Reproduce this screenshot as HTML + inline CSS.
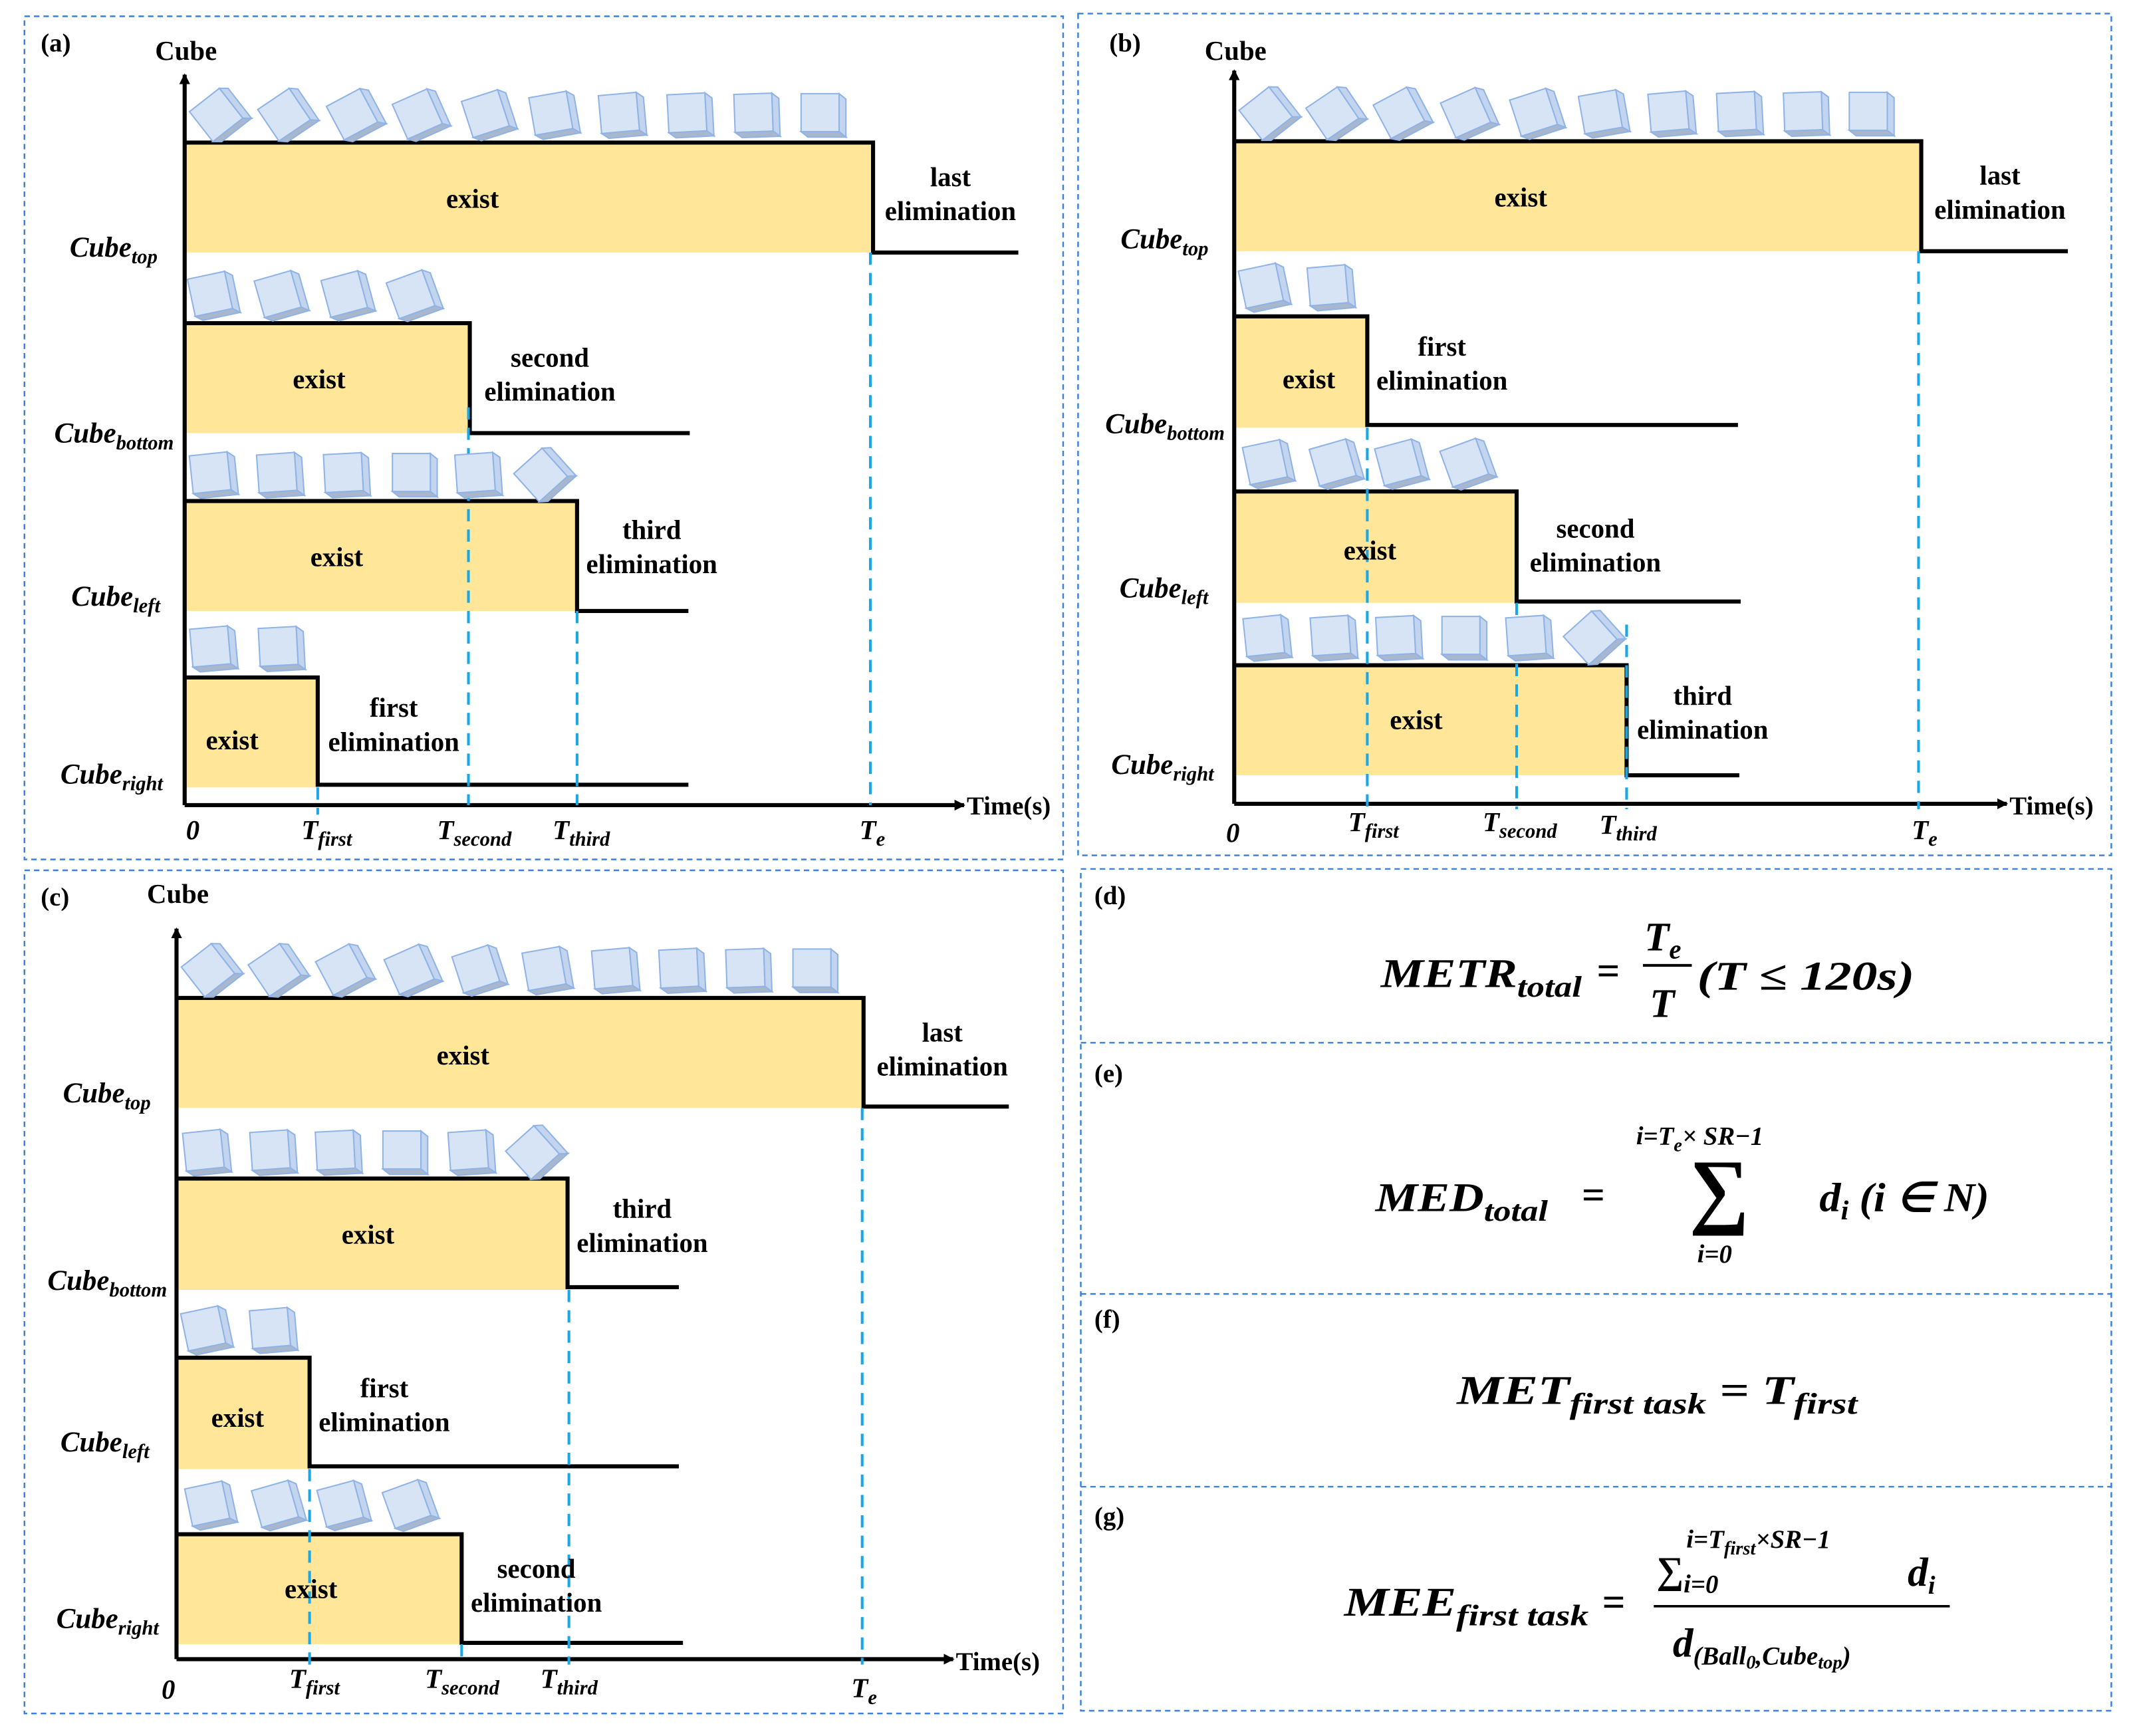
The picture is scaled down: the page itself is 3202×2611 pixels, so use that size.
<!DOCTYPE html>
<html><head><meta charset="utf-8"><style>
html,body{margin:0;padding:0;background:#fff}
svg{display:block}
text{font-family:"Liberation Serif",serif;font-weight:bold;fill:#000}
.it{font-style:italic;font-weight:bold}
.m{font-style:italic;font-weight:bold}
</style></head><body>
<svg width="3202" height="2611" viewBox="0 0 1568 1278.6" xmlns="http://www.w3.org/2000/svg">
<defs>
<g id="cb">
<polygon points="-16,-16 12,-16 12,12 -16,12" fill="#d6e4f6" stroke="#8fb3e6" stroke-width="1"/>
<polygon points="12,-16 17,-12 17,16 12,12" fill="#c3d4ee" stroke="#8fb3e6" stroke-width="1"/>
<polygon points="-16,12 12,12 17,16 -11,16" fill="#a9b7cd" stroke="#8fb3e6" stroke-width="1"/>
</g>
<marker id="ar" markerWidth="8" markerHeight="8" refX="7" refY="4" orient="auto" markerUnits="userSpaceOnUse"><path d="M0,0 L8,4 L0,8 z" fill="#000"/></marker>
</defs>
<rect width="1568" height="1278.6" fill="#fff"/>
<g fill="none" stroke="#3b82d6" stroke-width="1.2" stroke-dasharray="4,3">
<rect x="18" y="12" width="765" height="621"/>
<rect x="794" y="10" width="761" height="620"/>
<rect x="18" y="641" width="765" height="621"/>
<rect x="796" y="640" width="759" height="620"/>
<line x1="796" y1="768" x2="1555" y2="768"/>
<line x1="796" y1="953" x2="1555" y2="953"/>
<line x1="796" y1="1095" x2="1555" y2="1095"/>
</g>
<g font-size="19"><text x="30" y="38">(a)</text><text x="817" y="38">(b)</text><text x="30" y="667">(c)</text>
<text x="806" y="666">(d)</text><text x="806" y="797">(e)</text><text x="806" y="978">(f)</text><text x="806" y="1123">(g)</text></g>

<!-- ===== Panel (a) ===== -->
<g fill="#ffe699">
<rect x="136" y="105" width="507" height="81"/><rect x="136" y="238" width="210" height="81"/>
<rect x="136" y="369" width="289" height="81"/><rect x="136" y="499" width="98" height="81"/></g>
<g stroke="#000" stroke-width="3" fill="none">
<polyline points="136,105 643,105 643,186 750,186"/>
<polyline points="136,238 346,238 346,319 508,319"/>
<polyline points="136,369 425,369 425,450 507,450"/>
<polyline points="136,499 234,499 234,578 507,578"/>
<line x1="136" y1="593" x2="136" y2="55" marker-end="url(#ar)"/>
<line x1="136" y1="593" x2="710" y2="593" marker-end="url(#ar)"/></g>
<g stroke="#1aa7e6" stroke-width="2" stroke-dasharray="9,6">
<line x1="641" y1="186" x2="641" y2="593"/><line x1="345" y1="300" x2="345" y2="593"/>
<line x1="425" y1="450" x2="425" y2="593"/><line x1="234" y1="580" x2="234" y2="600"/></g>
<g font-size="20" text-anchor="middle">
<text x="348" y="153">exist</text><text x="235" y="286">exist</text><text x="248" y="417">exist</text><text x="171" y="552">exist</text>
<text x="700" y="137">last</text><text x="700" y="162">elimination</text>
<text x="405" y="270">second</text><text x="405" y="295">elimination</text>
<text x="480" y="397">third</text><text x="480" y="422">elimination</text>
<text x="290" y="528">first</text><text x="290" y="553">elimination</text>
<text x="137" y="44">Cube</text></g>
<text x="712" y="600" font-size="19">Time(s)</text>
<g font-size="21" text-anchor="end">
<text x="116" y="189" class="it">Cube<tspan font-size="15" dy="5">top</tspan></text>
<text x="128" y="326" class="it">Cube<tspan font-size="15" dy="5">bottom</tspan></text>
<text x="118" y="446" class="it">Cube<tspan font-size="15" dy="5">left</tspan></text>
<text x="120" y="577" class="it">Cube<tspan font-size="15" dy="5">right</tspan></text></g>
<g font-size="20">
<text x="137" y="618" class="it">0</text>
<text x="222" y="618" class="it">T<tspan font-size="15" dy="5">first</tspan></text>
<text x="322" y="618" class="it">T<tspan font-size="15" dy="5">second</tspan></text>
<text x="407" y="618" class="it">T<tspan font-size="15" dy="5">third</tspan></text>
<text x="633" y="618" class="it">T<tspan font-size="15" dy="5">e</tspan></text></g>
<g>
<use href="#cb" transform="translate(162,85) rotate(-38)"/><use href="#cb" transform="translate(212,85) rotate(-34)"/>
<use href="#cb" transform="translate(262,85) rotate(-28)"/><use href="#cb" transform="translate(310,85) rotate(-24)"/>
<use href="#cb" transform="translate(360,85) rotate(-18)"/><use href="#cb" transform="translate(408,85) rotate(-10)"/>
<use href="#cb" transform="translate(458,85) rotate(-5)"/><use href="#cb" transform="translate(508,85) rotate(-3)"/>
<use href="#cb" transform="translate(557,85) rotate(-2)"/><use href="#cb" transform="translate(606,85)"/>
<use href="#cb" transform="translate(157,218) rotate(-12)"/><use href="#cb" transform="translate(207,218) rotate(-16)"/>
<use href="#cb" transform="translate(256,218) rotate(-15)"/><use href="#cb" transform="translate(305,218) rotate(-20)"/>
<use href="#cb" transform="translate(157,350) rotate(-6)"/><use href="#cb" transform="translate(206,350) rotate(-4)"/>
<use href="#cb" transform="translate(255,350) rotate(-3)"/><use href="#cb" transform="translate(305,350)"/>
<use href="#cb" transform="translate(352,350) rotate(-4)"/><use href="#cb" transform="translate(401,350) rotate(-42)"/>
<use href="#cb" transform="translate(157,478) rotate(-5)"/><use href="#cb" transform="translate(207,478) rotate(-3)"/>
</g>

<!-- ===== Panel (b) ===== -->
<g fill="#ffe699">
<rect x="909" y="104" width="506" height="81"/><rect x="909" y="233" width="98" height="82"/>
<rect x="909" y="362" width="208" height="82"/><rect x="909" y="490" width="289" height="81"/></g>
<g stroke="#000" stroke-width="3" fill="none">
<polyline points="909,104 1415,104 1415,185 1523,185"/>
<polyline points="909,233 1007,233 1007,313 1280,313"/>
<polyline points="909,362 1117,362 1117,443 1282,443"/>
<polyline points="909,490 1198,490 1198,571 1281,571"/>
<line x1="909" y1="592" x2="909" y2="52" marker-end="url(#ar)"/>
<line x1="909" y1="592" x2="1478" y2="592" marker-end="url(#ar)"/></g>
<g stroke="#1aa7e6" stroke-width="2" stroke-dasharray="9,6">
<line x1="1007" y1="315" x2="1007" y2="600"/><line x1="1117" y1="444" x2="1117" y2="596"/>
<line x1="1198" y1="460" x2="1198" y2="596"/><line x1="1413" y1="185" x2="1413" y2="596"/></g>
<g font-size="20" text-anchor="middle">
<text x="1120" y="152">exist</text><text x="964" y="286">exist</text><text x="1009" y="412">exist</text><text x="1043" y="537">exist</text>
<text x="1473" y="136">last</text><text x="1473" y="161">elimination</text>
<text x="1062" y="262">first</text><text x="1062" y="287">elimination</text>
<text x="1175" y="396">second</text><text x="1175" y="421">elimination</text>
<text x="1254" y="519">third</text><text x="1254" y="544">elimination</text>
<text x="910" y="44">Cube</text></g>
<text x="1480" y="600" font-size="19">Time(s)</text>
<g font-size="21" text-anchor="end">
<text x="890" y="183" class="it">Cube<tspan font-size="15" dy="5">top</tspan></text>
<text x="902" y="319" class="it">Cube<tspan font-size="15" dy="5">bottom</tspan></text>
<text x="890" y="440" class="it">Cube<tspan font-size="15" dy="5">left</tspan></text>
<text x="894" y="570" class="it">Cube<tspan font-size="15" dy="5">right</tspan></text></g>
<g font-size="20">
<text x="903" y="620" class="it">0</text>
<text x="993" y="612" class="it">T<tspan font-size="15" dy="5">first</tspan></text>
<text x="1092" y="612" class="it">T<tspan font-size="15" dy="5">second</tspan></text>
<text x="1178" y="614" class="it">T<tspan font-size="15" dy="5">third</tspan></text>
<text x="1408" y="618" class="it">T<tspan font-size="15" dy="5">e</tspan></text></g>
<g>
<use href="#cb" transform="translate(935,84) rotate(-38)"/><use href="#cb" transform="translate(984,84) rotate(-34)"/>
<use href="#cb" transform="translate(1033,84) rotate(-28)"/><use href="#cb" transform="translate(1082,84) rotate(-24)"/>
<use href="#cb" transform="translate(1132,84) rotate(-18)"/><use href="#cb" transform="translate(1181,84) rotate(-10)"/>
<use href="#cb" transform="translate(1231,84) rotate(-5)"/><use href="#cb" transform="translate(1281,84) rotate(-3)"/>
<use href="#cb" transform="translate(1330,84) rotate(-2)"/><use href="#cb" transform="translate(1378,84)"/>
<use href="#cb" transform="translate(931,212) rotate(-12)"/><use href="#cb" transform="translate(980,212) rotate(-5)"/>
<use href="#cb" transform="translate(934,342) rotate(-12)"/><use href="#cb" transform="translate(984,342) rotate(-16)"/>
<use href="#cb" transform="translate(1032,342) rotate(-15)"/><use href="#cb" transform="translate(1081,342) rotate(-20)"/>
<use href="#cb" transform="translate(933,470) rotate(-6)"/><use href="#cb" transform="translate(982,470) rotate(-4)"/>
<use href="#cb" transform="translate(1030,470) rotate(-3)"/><use href="#cb" transform="translate(1078,470)"/>
<use href="#cb" transform="translate(1126,470) rotate(-4)"/><use href="#cb" transform="translate(1174,470) rotate(-42)"/>
</g>

<!-- ===== Panel (c) ===== -->
<g fill="#ffe699">
<rect x="130" y="735" width="506" height="81"/><rect x="130" y="868" width="288" height="82"/>
<rect x="130" y="1000" width="98" height="82"/><rect x="130" y="1130" width="210" height="81"/></g>
<g stroke="#000" stroke-width="3" fill="none">
<polyline points="130,735 636,735 636,815 743,815"/>
<polyline points="130,868 418,868 418,948 500,948"/>
<polyline points="130,1000 228,1000 228,1080 500,1080"/>
<polyline points="130,1130 340,1130 340,1210 503,1210"/>
<line x1="130" y1="1222" x2="130" y2="684" marker-end="url(#ar)"/>
<line x1="130" y1="1222" x2="702" y2="1222" marker-end="url(#ar)"/></g>
<g stroke="#1aa7e6" stroke-width="2" stroke-dasharray="9,6">
<line x1="228" y1="1082" x2="228" y2="1228"/><line x1="340" y1="1211" x2="340" y2="1226"/>
<line x1="419" y1="950" x2="419" y2="1226"/><line x1="635" y1="816" x2="635" y2="1226"/></g>
<g font-size="20" text-anchor="middle">
<text x="341" y="784">exist</text><text x="271" y="916">exist</text><text x="175" y="1051">exist</text><text x="229" y="1177">exist</text>
<text x="694" y="767">last</text><text x="694" y="792">elimination</text>
<text x="473" y="897">third</text><text x="473" y="922">elimination</text>
<text x="283" y="1029">first</text><text x="283" y="1054">elimination</text>
<text x="395" y="1162">second</text><text x="395" y="1187">elimination</text>
<text x="131" y="665">Cube</text></g>
<text x="704" y="1230" font-size="19">Time(s)</text>
<g font-size="21" text-anchor="end">
<text x="111" y="812" class="it">Cube<tspan font-size="15" dy="5">top</tspan></text>
<text x="123" y="950" class="it">Cube<tspan font-size="15" dy="5">bottom</tspan></text>
<text x="110" y="1069" class="it">Cube<tspan font-size="15" dy="5">left</tspan></text>
<text x="117" y="1199" class="it">Cube<tspan font-size="15" dy="5">right</tspan></text></g>
<g font-size="20">
<text x="119" y="1251" class="it">0</text>
<text x="213" y="1243" class="it">T<tspan font-size="15" dy="5">first</tspan></text>
<text x="313" y="1243" class="it">T<tspan font-size="15" dy="5">second</tspan></text>
<text x="398" y="1243" class="it">T<tspan font-size="15" dy="5">third</tspan></text>
<text x="627" y="1250" class="it">T<tspan font-size="15" dy="5">e</tspan></text></g>
<g>
<use href="#cb" transform="translate(156,715) rotate(-38)"/><use href="#cb" transform="translate(205,715) rotate(-34)"/>
<use href="#cb" transform="translate(254,715) rotate(-28)"/><use href="#cb" transform="translate(304,715) rotate(-24)"/>
<use href="#cb" transform="translate(353,715) rotate(-18)"/><use href="#cb" transform="translate(403,715) rotate(-10)"/>
<use href="#cb" transform="translate(453,715) rotate(-5)"/><use href="#cb" transform="translate(502,715) rotate(-3)"/>
<use href="#cb" transform="translate(551,715) rotate(-2)"/><use href="#cb" transform="translate(600,715)"/>
<use href="#cb" transform="translate(152,849) rotate(-6)"/><use href="#cb" transform="translate(201,849) rotate(-4)"/>
<use href="#cb" transform="translate(249,849) rotate(-3)"/><use href="#cb" transform="translate(298,849)"/>
<use href="#cb" transform="translate(347,849) rotate(-4)"/><use href="#cb" transform="translate(395,849) rotate(-42)"/>
<use href="#cb" transform="translate(152,980) rotate(-12)"/><use href="#cb" transform="translate(201,980) rotate(-5)"/>
<use href="#cb" transform="translate(155,1109) rotate(-12)"/><use href="#cb" transform="translate(205,1109) rotate(-16)"/>
<use href="#cb" transform="translate(253,1109) rotate(-15)"/><use href="#cb" transform="translate(302,1109) rotate(-20)"/>
</g>

<!-- ===== Formulas ===== -->
<g font-size="30">
<text x="1017" y="727" class="m" textLength="148" lengthAdjust="spacingAndGlyphs">METR<tspan font-size="22" dy="7">total</tspan></text>
<text x="1176" y="725">=</text>
<text x="1211" y="700" class="m">T<tspan font-size="20" dy="6">e</tspan></text>
<line x1="1210" y1="711" x2="1246" y2="711" stroke="#000" stroke-width="2"/>
<text x="1215" y="749" class="m">T</text>
<text x="1250" y="729" class="m" textLength="160" lengthAdjust="spacingAndGlyphs">(T ≤ 120s)</text>

<text x="1013" y="892" class="m" textLength="127" lengthAdjust="spacingAndGlyphs">MED<tspan font-size="22" dy="7">total</tspan></text>
<text x="1165" y="890">=</text>
<text x="1244" y="897" font-size="62" font-weight="normal" font-family="DejaVu Serif, serif">∑</text>
<text x="1205" y="843" font-size="19" class="m">i=T<tspan font-size="14" dy="5">e</tspan><tspan dy="-5">× SR−1</tspan></text>
<text x="1250" y="930" font-size="19" class="m">i=0</text>
<text x="1340" y="892" class="m" textLength="125" lengthAdjust="spacingAndGlyphs">d<tspan font-size="20" dy="6">i</tspan><tspan dy="-6"> (i ∈ N)</tspan></text>

<text x="1073" y="1034" class="m" textLength="295" lengthAdjust="spacingAndGlyphs">MET<tspan font-size="22" dy="7">first task</tspan><tspan dy="-7"> = T</tspan><tspan font-size="22" dy="7">first</tspan></text>

<text x="990" y="1190" class="m" textLength="180" lengthAdjust="spacingAndGlyphs">MEE<tspan font-size="22" dy="7">first task</tspan></text>
<text x="1180" y="1190">=</text>
<text x="1220" y="1166" class="m" font-size="28">∑<tspan font-size="19" dy="7">i=0</tspan></text>
<text x="1242" y="1140" font-size="19" class="m">i=T<tspan font-size="14" dy="5">first</tspan><tspan dy="-5">×SR−1</tspan></text>
<text x="1405" y="1168" class="m">d<tspan font-size="19" dy="6">i</tspan></text>
<line x1="1218" y1="1183" x2="1436" y2="1183" stroke="#000" stroke-width="1.8"/>
<text x="1232" y="1220" class="m">d<tspan font-size="19" dy="6">(Ball</tspan><tspan font-size="14" dy="3">0</tspan><tspan font-size="19" dy="-3">,Cube</tspan><tspan font-size="14" dy="3">top</tspan><tspan font-size="19" dy="-3">)</tspan></text>
</g>
</svg>
</body></html>
